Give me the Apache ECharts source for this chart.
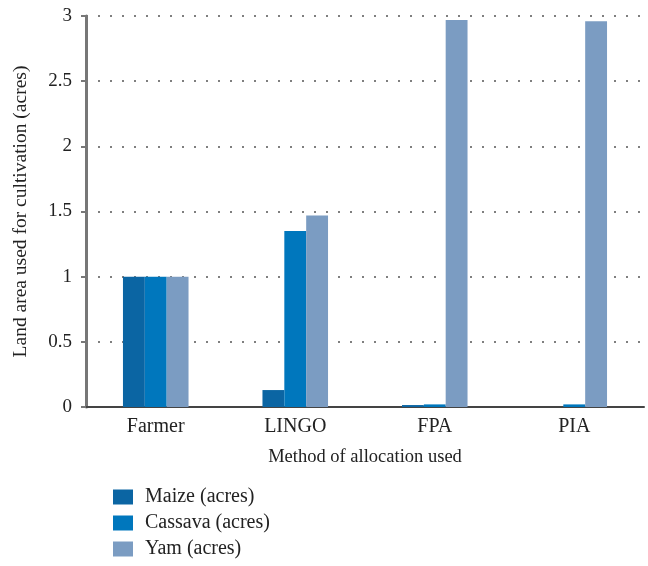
<!DOCTYPE html>
<html><head><meta charset="utf-8">
<script src="https://cdn.jsdelivr.net/npm/echarts@6/dist/echarts.min.js"></script>
<style>html,body{margin:0;padding:0;background:#fff}#c{width:648px;height:566px}</style>
</head><body><div id="c"></div>
<script>
const categories = ['Farmer','LINGO','FPA','PIA'];
const maize = [1.0, 0.13, 0.015, 0];
const cassava = [1.0, 1.35, 0.02, 0.02];
const yam = [1.0, 1.47, 2.97, 2.96];
const seriesNames = ['Maize (acres)','Cassava (acres)','Yam (acres)'];
const colors = ['#0b65a3','#0077bd','#7b9cc2'];
const font = 'Liberation Serif';
const chart = echarts.init(document.getElementById('c'));
chart.setOption({
  animation:false,
  textStyle:{fontFamily:font},
  grid:{left:86,right:4,top:16,bottom:159,outerBoundsMode:'none',containLabel:false},
  legend:{orient:'vertical',left:113,top:487,height:90,padding:0,itemWidth:20,itemHeight:15,itemGap:6,
    icon:'rect',textStyle:{fontFamily:font,fontSize:20,color:'#222',padding:[0,0,0,7]},data:seriesNames},
  xAxis:{type:'category',data:categories,
    name:'Method of allocation used',nameLocation:'middle',nameGap:41,
    nameTextStyle:{fontFamily:font,fontSize:18.5,color:'#222'},
    axisLine:{lineStyle:{color:'#444',width:2}},axisTick:{show:false},
    axisLabel:{fontFamily:font,fontSize:20,color:'#222',margin:10}},
  yAxis:{type:'value',min:0,max:3,interval:0.5,
    name:'Land area used for cultivation (acres)',nameLocation:'middle',nameGap:55,
    nameTextStyle:{fontFamily:font,fontSize:19.5,color:'#222'},
    axisLine:{show:true,lineStyle:{color:'#777',width:3}},
    axisTick:{show:true,length:5,lineStyle:{color:'#777',width:2}},
    axisLabel:{fontFamily:font,fontSize:19,color:'#222',margin:14},
    splitLine:{lineStyle:{color:'#555',type:[2,10],width:1.5}}},
  series:[
    {name:seriesNames[0],type:'bar',data:maize,itemStyle:{color:colors[0]},barGap:'0%',barCategoryGap:'53%'},
    {name:seriesNames[1],type:'bar',data:cassava,itemStyle:{color:colors[1]},barGap:'0%',barCategoryGap:'53%'},
    {name:seriesNames[2],type:'bar',data:yam,itemStyle:{color:colors[2]},barGap:'0%',barCategoryGap:'53%'}
  ]
});
</script></body></html>
